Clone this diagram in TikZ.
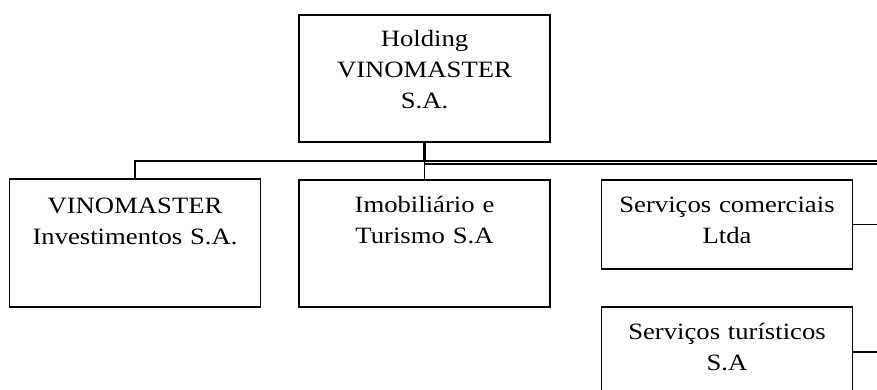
\documentclass[tikz,border=0pt]{standalone}
\usepackage{fontspec}
\setmainfont{Liberation Serif}[FakeStretch=1.14]
\usetikzlibrary{positioning}

\begin{document}
\begin{tikzpicture}[x=1pt, y=-1pt,
		box/.style={draw, rectangle, line width=1.2pt, minimum width=251pt, inner sep=0pt},
		txt/.style={anchor=base, align=center, text width=245pt, inner sep=0pt, font=\fontsize{23.4}{31}\selectfont},
		link/.style={line width=1.2pt}]
			\useasboundingbox (0,0) rectangle (877,389);
			\clip (0,0) rectangle (877,389);
			\node[box, minimum height=127pt] (Hold) at (424.5,78.5) {};
			\node[txt] (HoldT) at ([yshift=-32pt]Hold.north) {Holding\\VINOMASTER\\S.A.};
			\node[box, minimum height=128pt] (Inv) at (135,243) {};
			\node[txt] (InvT) at ([yshift=-35pt]Inv.north) {VINOMASTER\\Investimentos S.A.};
			\node[box, minimum height=127pt] (Imob) at (424.5,243.5) {};
			\node[txt] (ImobT) at ([yshift=-33pt]Imob.north) {Imobiliário e\\Turismo S.A};
			\node[box, minimum height=89pt] (Com) at (727,224.5) {};
			\node[txt] (ComT) at ([yshift=-33pt]Com.north) {Serviços comerciais\\Ltda};
			\node[box, minimum height=90pt] (Tur) at (727,352) {};
			\node[txt] (TurT) at ([yshift=-33pt]Tur.north) {Serviços turísticos\\S.A};
			\coordinate (Bus) at (424.5,161);
			\coordinate (BusE) at (877,161);
			\coordinate (Bus2) at (424.5,164);
			\coordinate (BusE2) at (877,164);
			\coordinate (ComE) at (877,224.5);
			\coordinate (TurE) at (877,352);
			\draw [link, line width=2.4pt] (Hold.south) -- (Bus);
			\draw [link] (Bus) -- (Imob.north);
			\draw [link] (Inv.north) |- (BusE);
			\draw [link] (Bus2) -- (BusE2);
			\draw [link] (Com.east) -- (ComE);
			\draw [link] (Tur.east) -- (TurE);
		\end{tikzpicture}
\end{document}
